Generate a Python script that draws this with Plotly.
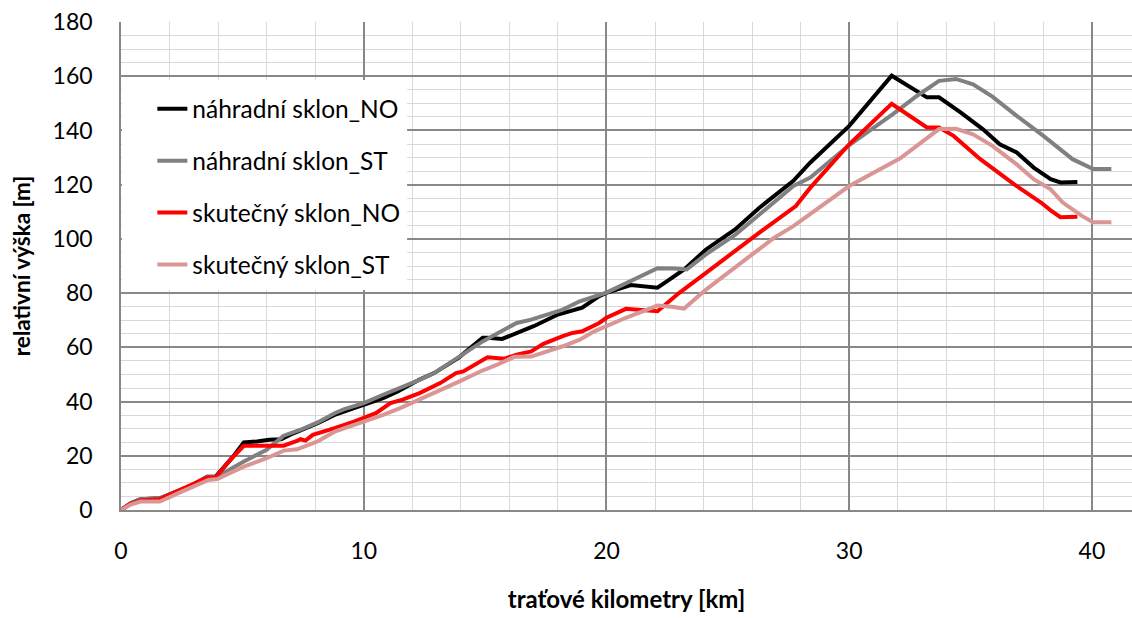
import plotly.graph_objects as go

# ---- data ----
km_nahr_NO = [0, 0.4, 0.8, 1.6, 2.2, 3.0, 3.55, 3.9, 4.6, 5.06, 5.6, 6.1, 6.6, 7.1, 8.1, 8.8, 9.6, 10.0,
              10.8, 11.4, 12.3, 12.9, 13.9, 14.9, 15.1, 15.7, 16.3, 17.0, 18.0, 18.5, 19.0, 19.7, 20.0,
              21.0, 22.1, 22.5, 23.2, 24.1, 25.3, 26.3, 27.7, 28.4, 30.0, 31.75, 33.2, 33.7, 34.6, 35.5,
              36.2, 36.9, 37.6, 38.3, 38.7, 39.4]
h_nahr_NO = [0, 2.5, 4.0, 4.3, 6.5, 9.5, 12.3, 12.3, 19.5, 24.9, 25.3, 25.9, 26.1, 28.3, 32, 35.1, 37.6, 38.8,
             41.3, 43.7, 48.1, 50.5, 56.1, 63.5, 63.5, 63.1, 65.3, 67.8, 72.1, 73.3, 74.6, 78.9, 80.1,
             83.0, 82.0, 84.4, 88.7, 96.1, 103.5, 111.5, 121.4, 128.2, 141.7, 160.2, 152.2, 152.2, 146.6, 140.5,
             134.9, 131.9, 126.3, 122, 120.8, 121.0]

km_nahr_ST = [0, 0.4, 0.8, 1.6, 2.2, 3.0, 3.55, 3.96, 5.06, 6.0, 6.7, 7.4, 8.1, 8.8, 9.2, 10.0, 10.8, 11.5,
              12.3, 12.9, 14.0, 14.9, 16.3, 16.9, 18.2, 18.9, 20.0, 21.1, 22.1, 22.8, 23.3, 24.1, 25.3,
              26.3, 27.7, 28.4, 29.6, 30.0, 31.8, 32.8, 33.7, 34.4, 35.1, 35.9, 36.9, 38.0, 39.2, 40.05, 40.8]
h_nahr_ST = [0, 2.5, 4.0, 4.3, 6.5, 9.5, 12.3, 12.3, 17.9, 22.2, 27.4, 29.6, 32.3, 35.7, 37.2, 39.4, 42.5, 45,
             48, 50.5, 56.7, 62.2, 69, 70.2, 73.9, 77, 80.2, 85, 89.2, 89.1, 88.7, 94.3, 101.5,
             109, 119.5, 122.6, 131.9, 134.6, 146, 152.8, 158.3, 159, 157, 152.5, 145.4, 138, 129.4, 125.8, 125.8]

km_skut_NO = [0, 0.4, 0.8, 1.6, 2.5, 3.55, 3.9, 4.5, 5.06, 5.6, 6.7, 7.25, 7.4, 7.6, 7.9, 8.8, 9.6, 10.5,
              11.1, 11.6, 12.3, 13.15, 13.8, 14.1, 15.1, 15.8, 16.3, 16.9, 17.4, 18.2, 18.6, 19.0, 19.7,
              20.0, 20.8, 22.1, 23.0, 24.1, 25.5, 26.3, 27.8, 28.4, 30.0, 31.75, 33.2, 33.7, 34.3, 35.4,
              36.8, 37.9, 38.3, 38.7, 39.4]
h_skut_NO = [0, 2.3, 3.5, 4.0, 7.6, 12.0, 12.0, 18.5, 23.7, 23.7, 23.7, 25.5, 26.1, 25.6, 27.7, 30.2, 32.6, 35.7,
             39.4, 40.7, 43.1, 46.8, 50.5, 51.1, 56.3, 55.8, 57.3, 58.5, 61.3, 64.1, 65.3, 65.9, 69,
             70.9, 74.2, 73.3, 80.1, 87.5, 97.0, 102.3, 112.1, 118.9, 134.9, 149.8, 141.1, 141.1, 138, 129.4,
             120.1, 113.4, 110.5, 108, 108.2]

km_skut_ST = [0, 0.4, 0.8, 1.6, 2.5, 3.6, 3.96, 5.06, 6.0, 6.7, 7.25, 8.1, 8.8, 9.45, 10.0, 10.8, 11.5, 12.3,
              13.15, 14.1, 14.8, 15.5, 16.2, 16.9, 17.5, 18.2, 18.9, 19.5, 20.8, 22.1, 22.7, 23.2, 24.1,
              25.5, 26.9, 27.7, 28.4, 30.0, 32.1, 33.7, 34.4, 35.1, 35.9, 36.9, 37.6, 38.3, 38.8, 39.6,
              40.05, 40.8]
h_skut_ST = [0, 2.0, 3.1, 3.1, 6.8, 11.1, 11.4, 16, 19.1, 21.9, 22.4, 25.3, 28.9, 30.8, 32.6, 35.1, 37.6, 40.7,
             44.2, 48.1, 51.1, 53.6, 56.5, 56.6, 58.2, 60.4, 62.8, 65.9, 70.9, 75.4, 75, 74.3, 81.3,
             90.8, 100.4, 104.7, 109.1, 119.5, 129.7, 140.5, 140.6, 138.6, 134.3, 127.5, 122, 118.3, 113.4, 108.4,
             106.1, 106.1]

series_names = ["náhradní sklon_NO", "náhradní sklon_ST", "skutečný sklon_NO", "skutečný sklon_ST"]
series_x = [km_nahr_NO, km_nahr_ST, km_skut_NO, km_skut_ST]
series_y = [h_nahr_NO, h_nahr_ST, h_skut_NO, h_skut_ST]
series_colors = ["#000000", "#808080", "#FF0000", "#D99694"]

x_title = "traťové kilometry [km]"
y_title = "relativní výška [m]"

FONT = "Lato, Calibri, Carlito, sans-serif"

fig = go.Figure()
for i, (name, xs, ys, col) in enumerate(zip(series_names, series_x, series_y, series_colors)):
    fig.add_trace(go.Scatter(x=xs, y=ys, mode="lines", name=name, legendgroup=f"g{i}",
                             line=dict(color=col, width=4)))

# white legend box
fig.add_shape(type="rect", xref="paper", yref="paper", x0=0.001, x1=0.283, y0=0.451, y1=0.881,
              fillcolor="white", line=dict(width=0), layer="above")

fig.update_layout(
    width=1132, height=618,
    margin=dict(l=121, r=0, t=22, b=108),
    paper_bgcolor="white", plot_bgcolor="white",
    font=dict(family=FONT, size=23, color="#000000"),
    showlegend=True,
    legend=dict(x=0.031, y=0.868, xanchor="left", yanchor="top", bgcolor="rgba(0,0,0,0)",
                traceorder="grouped", tracegroupgap=17, font=dict(size=24.5, family=FONT)),
)
fig.update_xaxes(range=[0, 41.65], dtick=10, tick0=0, showgrid=True, gridcolor="#888888", gridwidth=1.5,
                 minor=dict(dtick=2, showgrid=True, gridcolor="#d9d9d9", gridwidth=1.4),
                 showline=True, linecolor="#888888", linewidth=1.5, zeroline=False,
                 ticks="", ticklabelstandoff=20, tickfont=dict(size=23),
                 title=dict(text=f"<b>{x_title}</b>", font=dict(size=24), standoff=28))
fig.update_yaxes(range=[0, 180], dtick=20, tick0=0, showgrid=True, gridcolor="#888888", gridwidth=1.5,
                 minor=dict(dtick=5, showgrid=True, gridcolor="#d9d9d9", gridwidth=1.4),
                 showline=True, linecolor="#888888", linewidth=1.5, zeroline=False,
                 ticks="", ticklabelstandoff=22, tickfont=dict(size=23),
                 title=dict(text=f"<b>{y_title}</b>", font=dict(size=22.5), standoff=16))

fig.write_html("out.html")
